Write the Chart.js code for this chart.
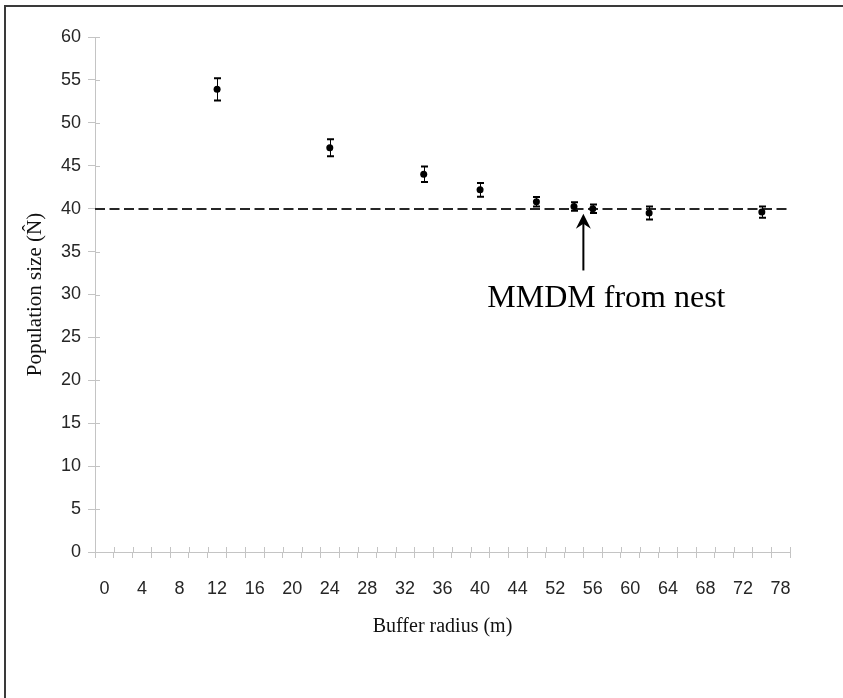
<!DOCTYPE html>
<html>
<head>
<meta charset="utf-8">
<title>Population size by buffer radius</title>
<script src="https://cdn.jsdelivr.net/npm/chart.js@4.4.1/dist/chart.umd.min.js"></script>
<style>
  html, body { margin: 0; padding: 0; background: #fff; }
  #wrap { position: relative; width: 843px; height: 698px; overflow: hidden; }
  #frame {
    position: absolute; left: 4px; top: 5px; right: -10px; bottom: -10px;
    border-top: 2px solid #3a3a3a; border-left: 2px solid #3a3a3a;
    pointer-events: none;
  }
</style>
</head>
<body>
<div id="wrap">
  <canvas id="popChart" width="843" height="698"></canvas>
  <div id="frame"></div>
</div>
<script>
// buffer radius categories (m) - only every other one gets a label
const radiusCats = ['0', '2', '4', '6', '8', '10', '12', '14', '16', '18', '20', '22', '24', '26',
  '28', '30', '32', '34', '36', '38', '40', '42', '44', '48', '52', '54', '56', '58', '60', '62',
  '64', '66', '68', '70', '72', '75', '78'];

// estimates of N at each buffer radius, with their error bars
const radii = ['12', '24', '34', '40', '48', '54', '56', '62', '75'];
const estimates = [53.9, 47.1, 44.0, 42.2, 40.8, 40.25, 40.0, 39.5, 39.6];
const stdErrors = [1.3, 1.0, 0.9, 0.8, 0.55, 0.5, 0.5, 0.75, 0.65];

// true population size (dashed reference line)
const referenceN = 40;

// MMDM annotation: arrow sits between these two radii
const arrowBetween = ['54', '56'];
const arrowTip = 39.4, arrowTail = 32.8, arrowTextAt = 28.6;
const arrowText = 'MMDM from nest';

const serif = '"Liberation Serif", "Times New Roman", serif';
const sans = '"Liberation Sans", Arial, sans-serif';

// dashed line at N, error bars, inner tick stubs and the arrow note
const extras = {
  id: 'extras',
  beforeDatasetsDraw(chart) {
    const {ctx, chartArea, scales: {x, y}} = chart;
    ctx.save();
    // tick stubs poking inside the axes
    ctx.strokeStyle = '#c4c4c4';
    ctx.lineWidth = 1;
    ctx.beginPath();
    y.ticks.forEach((t, i) => {
      const py = Math.round(y.getPixelForTick(i)) + 0.5;
      ctx.moveTo(chartArea.left, py);
      ctx.lineTo(chartArea.left + 5, py);
    });
    const step = (x.right - x.left) / radiusCats.length;
    for (let i = 0; i <= radiusCats.length; i++) {
      const px = Math.round(x.left + i * step) + 0.5;
      ctx.moveTo(px, chartArea.bottom);
      ctx.lineTo(px, chartArea.bottom - 5);
    }
    ctx.stroke();

    // reference line
    const yRef = Math.round(y.getPixelForValue(referenceN));
    ctx.strokeStyle = '#262626';
    ctx.lineWidth = 2;
    ctx.setLineDash([10, 4.5]);
    ctx.beginPath();
    ctx.moveTo(chartArea.left, yRef);
    ctx.lineTo(chartArea.right, yRef);
    ctx.stroke();
    ctx.restore();
  },
  afterDatasetsDraw(chart) {
    const {ctx, scales: {x, y}} = chart;
    const meta = chart.getDatasetMeta(0);
    ctx.save();
    ctx.strokeStyle = '#000';
    meta.data.forEach((pt, i) => {
      const top = y.getPixelForValue(estimates[i] + stdErrors[i]);
      const bot = y.getPixelForValue(estimates[i] - stdErrors[i]);
      const px = Math.round(pt.x) + 0.5;
      ctx.lineWidth = 1;
      ctx.beginPath();
      ctx.moveTo(px, top);
      ctx.lineTo(px, bot);
      ctx.stroke();
      ctx.lineWidth = 2;
      ctx.beginPath();
      ctx.moveTo(px - 3.5, top);
      ctx.lineTo(px + 3.5, top);
      ctx.moveTo(px - 3.5, bot);
      ctx.lineTo(px + 3.5, bot);
      ctx.stroke();
    });

    // arrow pointing at the MMDM radius
    const ax = (x.getPixelForValue(radiusCats.indexOf(arrowBetween[0])) +
                x.getPixelForValue(radiusCats.indexOf(arrowBetween[1]))) / 2;
    const tipY = y.getPixelForValue(arrowTip);
    const tailY = y.getPixelForValue(arrowTail);
    ctx.lineWidth = 2;
    ctx.beginPath();
    ctx.moveTo(ax, tailY);
    ctx.lineTo(ax, tipY + 8);
    ctx.stroke();
    ctx.fillStyle = '#000';
    ctx.beginPath();
    ctx.moveTo(ax, tipY);
    ctx.lineTo(ax + 7.5, tipY + 15);
    ctx.lineTo(ax, tipY + 10);
    ctx.lineTo(ax - 7.5, tipY + 15);
    ctx.closePath();
    ctx.fill();

    ctx.font = '32px ' + serif;
    ctx.textAlign = 'center';
    ctx.textBaseline = 'alphabetic';
    ctx.fillText(arrowText, ax + 23, y.getPixelForValue(arrowTextAt));
    ctx.restore();
  }
};

const ctx = document.getElementById('popChart').getContext('2d');
new Chart(ctx, {
  type: 'line',
  data: {
    labels: radiusCats,
    datasets: [{
      label: 'N estimate',
      data: radii.map((r, i) => ({x: r, y: estimates[i]})),
      showLine: false,
      pointRadius: 3.5,
      pointBackgroundColor: '#000',
      pointBorderWidth: 0,
      pointHoverRadius: 3.5
    }]
  },
  options: {
    responsive: false,
    animation: false,
    layout: { padding: { top: 37, right: 53, bottom: 0, left: 0 } },
    plugins: { legend: { display: false }, tooltip: { enabled: false } },
    scales: {
      x: {
        type: 'category',
        offset: true,
        grid: { offset: true, drawOnChartArea: false, tickLength: 6, color: '#c4c4c4' },
        border: { color: '#c4c4c4', width: 1 },
        ticks: {
          autoSkip: false, maxRotation: 0, padding: 20, color: '#262626',
          font: { family: sans, size: 18 },
          callback: (v, i) => (i % 2 === 0 ? radiusCats[i] : '')
        },
        title: {
          display: true, text: 'Buffer radius (m)', color: '#111',
          font: { family: serif, size: 20 }, padding: { top: 4, bottom: 59 }
        },
        afterFit: (s) => { s.height = 146; }
      },
      y: {
        min: 0, max: 60,
        grid: { drawOnChartArea: false, tickLength: 7, color: '#c4c4c4' },
        border: { color: '#c4c4c4', width: 1 },
        ticks: { stepSize: 5, padding: 7, color: '#262626', font: { family: sans, size: 18 } },
        title: {
          display: true, text: 'Population size (N\u0302)', color: '#111',
          font: { family: serif, size: 21 }, padding: { top: 23, bottom: 0 }
        },
        afterFit: (s) => { s.width = 95; }
      }
    }
  },
  plugins: [extras]
});
</script>
</body>
</html>
